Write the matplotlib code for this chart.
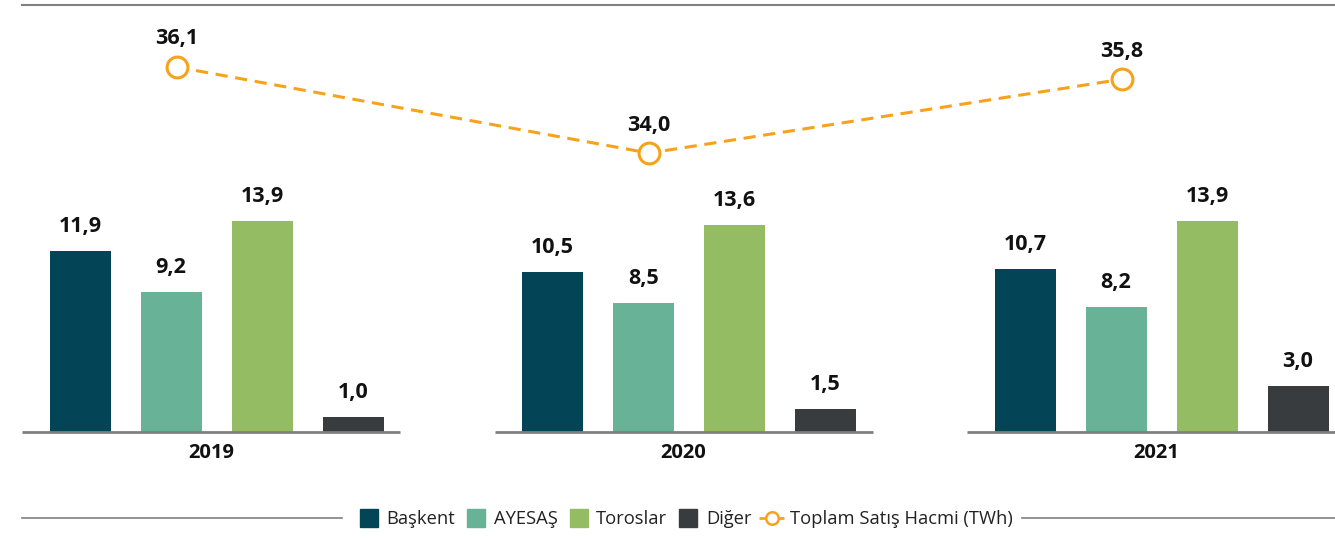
import matplotlib
matplotlib.use("Agg")
import matplotlib.pyplot as plt
import numpy as np
from matplotlib.lines import Line2D

plt.rcParams['font.family'] = ['Open Sans', 'DejaVu Sans']

years = ['2019', '2020', '2021']
series = ['Başkent', 'AYESAŞ', 'Toroslar', 'Diğer']
baskent = [11.9, 10.5, 10.7]
ayesas = [9.2, 8.5, 8.2]
toroslar = [13.9, 13.6, 13.9]
diger = [1.0, 1.5, 3.0]
toplam = [36.1, 34.0, 35.8]
colors = ['#034457', '#68B298', '#93BC63', '#383C3F']
line_color = '#F7A21B'
grey = '#808080'

W, H = 1335, 538
fig = plt.figure(figsize=(W / 100, H / 100), dpi=100)
ax = fig.add_axes([0, 0, 1, 1])
ax2 = ax.twinx()

# x in group units: group center at 216.5 px, 472.5 px between groups
gx = np.arange(len(years))
ax.set_xlim(-216.5 / 472.5, (W - 216.5) / 472.5)
ax.set_ylim(-106 / 15.2, (H - 106) / 15.2)
ax2.set_ylim(36.1 - 471 / 41, 36.1 + 67 / 41)

pitch = 91 / 472.5
bw = 61 / 472.5
label_font = dict(ha='center', va='baseline', fontsize=15.5, fontweight='bold',
                  color='#111111')

for k, vals in enumerate([baskent, ayesas, toroslar, diger]):
    xs = gx + (k - 1.5) * pitch
    ax.bar(xs, vals, width=bw, color=colors[k], zorder=2)
    for x, v in zip(xs, vals):
        ax.text(x, v + 1.25, f'{v:.1f}'.replace('.', ','), **label_font)

# baselines under each group
for i, y in enumerate(years):
    left = i - 194.5 / 472.5
    right = i + 183.5 / 472.5 if i < 2 else ax.get_xlim()[1]
    ax.plot([left, right], [0, 0], color=grey, lw=2, zorder=3, solid_capstyle='butt')
    ax.text((left + i + 183.5 / 472.5) / 2, -1.72, y, ha='center', va='baseline',
            fontsize=14.5, fontweight='bold', color='#111111')

lx = gx - 40 / 472.5
ax2.plot(lx, toplam, color=line_color, lw=2.2, ls=(0, (4, 2.5)), marker='o',
         markersize=15, markerfacecolor='white', markeredgewidth=2.2, zorder=4)
for x, v in zip(lx, toplam):
    ax2.text(x, v + 0.55, f'{v:.1f}'.replace('.', ','), **label_font)

for a in (ax, ax2):
    a.axis('off')

# top rule and legend rules
fig.add_artist(Line2D([22 / W, 1], [1 - 5 / H, 1 - 5 / H], color=grey, lw=1.5))
fig.add_artist(Line2D([22 / W, 342 / W], [1 - 518 / H] * 2, color=grey, lw=1.2))
fig.add_artist(Line2D([1022 / W, 1], [1 - 518 / H] * 2, color=grey, lw=1.2))

handles = [Line2D([0], [0], ls='none', marker='s', markersize=13, color=c) for c in colors]
handles.append(Line2D([0], [0], color=line_color, lw=2, ls=(0, (2, 1.5)), marker='o',
                      markersize=9, markerfacecolor='white', markeredgewidth=1.8))
fig.legend(handles, series + ['Toplam Satış Hacmi (TWh)'], loc='center',
           bbox_to_anchor=(684 / W, 1 - 519 / H), ncol=5, frameon=False,
           fontsize=13.2, handlelength=1.5, handletextpad=0.2, numpoints=1,
           columnspacing=0.4, borderpad=0, labelcolor='#222222')

fig.savefig('out.png', dpi=100)
